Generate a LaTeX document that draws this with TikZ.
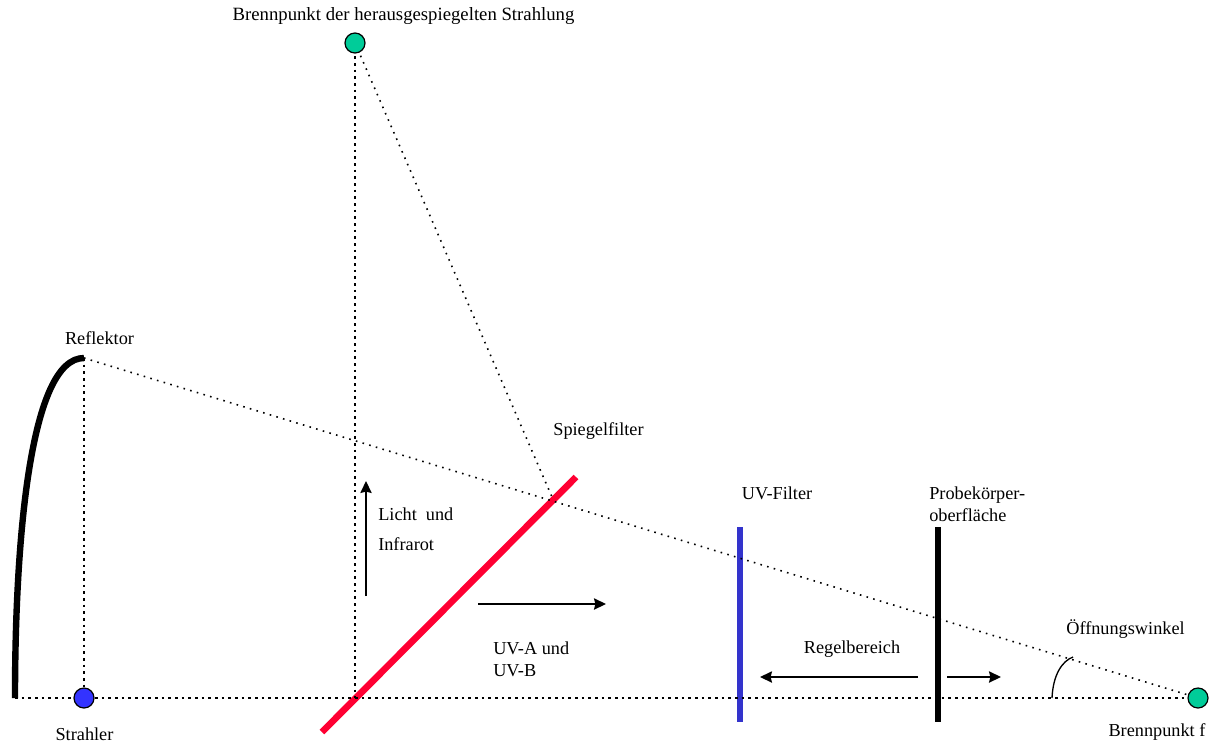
\documentclass[tikz,border=0pt]{standalone}
\usepackage{fontspec}
\setmainfont{Liberation Serif}
\usetikzlibrary{arrows.meta}
\tikzset{
  lbl/.style={inner sep=0pt,font=\fontsize{13.7pt}{16pt}\selectfont,align=left},
  dot/.style={circle,draw=black,line width=0.9pt,minimum size=15pt,inner sep=0pt},
  thin dots/.style={line width=1.2pt,dash pattern=on 1.2pt off 4pt},
  heavy dots/.style={line width=2pt,dash pattern=on 2pt off 3pt},
  arr/.style={line width=1pt,-{Stealth[length=9pt,width=8.5pt,inset=1pt]}},
  plate/.style={line width=#1,line cap=butt},
}
\definecolor{greenfp}{HTML}{00CC99}
\definecolor{bluefp}{HTML}{3333FF}
\definecolor{redf}{HTML}{FF0033}
\definecolor{bluef}{HTML}{3333CC}
\begin{document}
\begin{tikzpicture}[x=0.75pt,y=-0.75pt]
\useasboundingbox (0,0) rectangle (1213,743);
% named points
\coordinate (base) at (15,698);
\coordinate (rtop) at (84,358);
\coordinate (vfoot) at (355,698);
\coordinate (hit) at (552,497);
\coordinate (arcA) at (1052,698);
\coordinate (arcB) at (1073,657);
\coordinate (redA) at (322,732);
\coordinate (redB) at (576,477);
\coordinate (uvA) at (740,527);
\coordinate (uvB) at (740,722);
\coordinate (prA) at (938,527);
\coordinate (prB) at (938,722);
\coordinate (a1s) at (366,596);
\coordinate (a1e) at (366,481);
\coordinate (a2s) at (478,604);
\coordinate (a2e) at (606,604);
\coordinate (a3s) at (918,677);
\coordinate (a3e) at (760,677);
\coordinate (a4s) at (947,677);
\coordinate (a4e) at (1001,677);
\coordinate (strahler) at (84,698);
\coordinate (ftop) at (355,43);
\coordinate (fright) at (1198,698);
% reflector
\draw[line width=4.8pt,line cap=butt] (base) .. controls (15,540) and (30,358) .. (rtop);
% filters
\draw[plate=5pt,redf] (redA) -- (redB);
\draw[plate=5pt,bluef] (uvA) -- (uvB);
\draw[plate=5.2pt,black] (prA) -- (prB);
% dotted rays
\draw[heavy dots] (base) -- (fright);
\draw[heavy dots] (rtop) -- (strahler);
\draw[heavy dots] (ftop) -- (vfoot);
\draw[thin dots] (rtop) -- (fright);
\draw[thin dots] (ftop) -- (hit);
% arrows
\draw[arr] (a1s) -- (a1e);
\draw[arr] (a2s) -- (a2e);
\draw[arr] (a3s) -- (a3e);
\draw[arr] (a4s) -- (a4e);
% angle
\draw[line width=1pt] (arcA) .. controls (1053,675) and (1062,661) .. (arcB);
% points
\node[dot,fill=bluefp] (nS) at (strahler) {};
\node[dot,fill=greenfp] (nT) at (ftop) {};
\node[dot,fill=greenfp] (nR) at (fright) {};
% labels
\node[lbl,font=\fontsize{14.05pt}{16pt}\selectfont] (t1) at (403.5,16) {Brennpunkt der herausgespiegelten Strahlung};
\node[lbl] (t2) at (99.5,338) {Reflektor};
\node[lbl] (t3) at (84.5,734) {Strahler};
\node[lbl] (t4) at (598.5,431) {Spiegelfilter};
\node[lbl,anchor=west] (t5) at (378,514) {Licht\ \ und};
\node[lbl,anchor=west] (t6) at (378,544) {Infrarot};
\node[lbl,anchor=north west] (t7) at (493,642) {UV-A und\\UV-B};
\node[lbl] (t8) at (777,493) {UV-Filter};
\node[lbl,anchor=north west] (t9) at (929,487) {Probekörper-\\oberfläche};
\node[lbl] (t10) at (852,649) {Regelbereich};
\node[lbl] (t11) at (1125.5,629) {Öffnungswinkel};
\node[lbl] (t12) at (1157,732) {Brennpunkt f};
\end{tikzpicture}
\end{document}
